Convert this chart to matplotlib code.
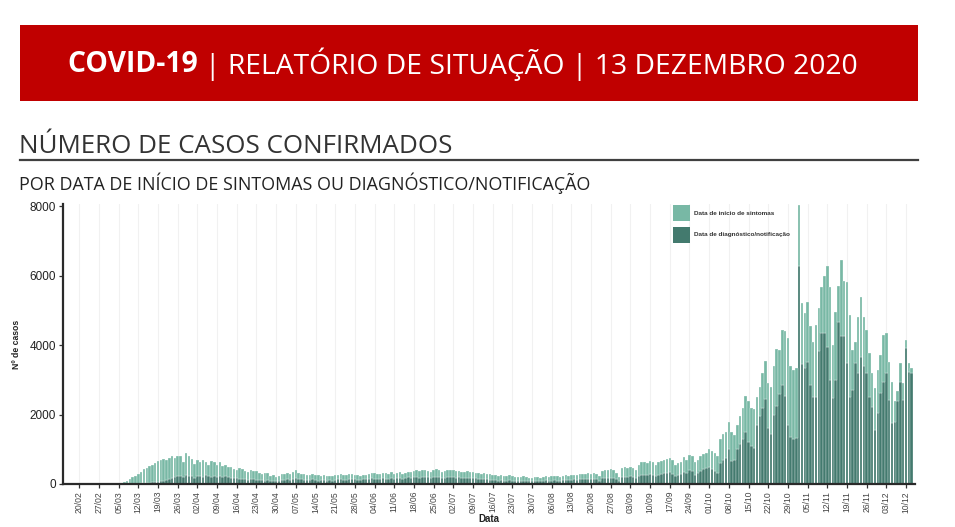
import numpy as np
import pandas as pd
import matplotlib
matplotlib.use('Agg')
import matplotlib.pyplot as plt
from matplotlib.patches import Rectangle, Patch
from matplotlib.lines import Line2D

# ---------------- data ----------------
start_date = '2020-02-20'
# total height of each daily bar (início de sintomas stacked on diagnóstico)
total = [
    0, 0, 0, 0, 0, 0, 2,
    3, 2, 4, 6, 5, 8, 12,
    18, 25, 50, 90, 140, 190, 240,
    300, 360, 420, 470, 520, 560, 610,
    660, 700, 720, 690, 760, 800, 760,
    800, 820, 640, 880, 800, 720, 580,
    680, 620, 700, 640, 560, 650, 620,
    560, 640, 520, 560, 500, 480, 440,
    410, 470, 430, 380, 360, 400, 370,
    380, 320, 300, 330, 310, 230, 250,
    210, 240, 280, 300, 320, 300, 350,
    400, 330, 300, 280, 270, 260, 300,
    270, 250, 230, 260, 240, 230, 220,
    250, 270, 290, 260, 250, 280, 300,
    270, 250, 240, 260, 270, 290, 320,
    310, 300, 280, 330, 310, 300, 340,
    290, 320, 350, 300, 330, 360, 340,
    380, 400, 370, 390, 410, 380, 360,
    400, 420, 390, 360, 380, 400, 410,
    390, 370, 380, 350, 340, 380, 360,
    340, 330, 310, 300, 320, 290, 280,
    270, 260, 240, 250, 230, 220, 250,
    230, 210, 200, 190, 220, 200, 180,
    170, 190, 200, 180, 210, 220, 200,
    230, 240, 220, 200, 230, 250, 240,
    260, 270, 250, 280, 290, 300, 310,
    300, 320, 290, 230, 380, 400, 390,
    420, 400, 330, 200, 460, 480, 470,
    500, 450, 400, 560, 640, 620, 600,
    650, 620, 560, 640, 660, 700, 720,
    740, 700, 560, 600, 640, 780, 700,
    840, 820, 620, 700, 800, 860, 900,
    1000, 950, 880, 820, 1300, 1450, 1500,
    1800, 1500, 1400, 1700, 1950, 2200, 2550,
    2400, 2200, 2150, 2500, 2800, 3200, 3550,
    2900, 2800, 3400, 3900, 3850, 4450, 4400,
    4200, 3400, 3300, 3340, 8040, 5230, 4940,
    5255, 4540, 4100, 4580, 5060, 5670, 5990,
    6280, 5690, 4010, 4970, 5710, 6450, 5850,
    5830, 4870, 3860, 4100, 4820, 5400, 4820,
    4440, 3770, 3190, 2760, 3290, 3720, 4300,
    4340, 3530, 2950, 2380, 2670, 3480, 2910,
    4150, 3480, 3340,
]
# cases by data de diagnóstico/notificação (dark, bottom part)
diagnostico = [
    0, 0, 0, 0, 0, 0, 0,
    0, 0, 0, 0, 0, 0, 0,
    0, 0, 0, 2, 3, 5, 8,
    10, 15, 20, 30, 40, 50, 60,
    70, 90, 100, 120, 150, 180, 200,
    220, 230, 200, 250, 240, 220, 180,
    220, 230, 210, 250, 220, 200, 230,
    210, 240, 200, 220, 190, 180, 170,
    160, 150, 140, 130, 120, 130, 140,
    120, 110, 120, 100, 110, 90, 80,
    90, 100, 110, 120, 130, 120, 140,
    160, 140, 130, 120, 110, 120, 130,
    110, 100, 110, 120, 100, 110, 100,
    120, 130, 140, 120, 110, 130, 150,
    130, 120, 110, 130, 140, 150, 160,
    150, 140, 130, 160, 150, 140, 170,
    150, 160, 180, 150, 170, 190, 170,
    200, 190, 180, 200, 210, 190, 170,
    200, 210, 190, 170, 180, 200, 210,
    190, 180, 190, 170, 160, 180, 170,
    160, 160, 150, 140, 150, 130, 120,
    120, 110, 100, 110, 100, 100, 110,
    100, 90, 80, 80, 100, 90, 80,
    80, 80, 90, 80, 100, 110, 90,
    100, 110, 100, 90, 110, 120, 110,
    120, 130, 110, 130, 140, 130, 150,
    140, 150, 130, 100, 170, 180, 170,
    180, 170, 140, 90, 200, 210, 200,
    220, 190, 160, 240, 270, 260, 250,
    280, 260, 220, 270, 290, 310, 320,
    340, 300, 230, 260, 280, 360, 320,
    400, 380, 270, 320, 380, 420, 450,
    480, 440, 380, 330, 600, 700, 750,
    1000, 650, 700, 1000, 1150, 1300, 1500,
    1200, 1100, 1050, 1700, 1950, 2200, 2450,
    1600, 1450, 2000, 2250, 2600, 2850, 2550,
    1700, 1350, 1300, 1320, 6280, 3460, 3340,
    3530, 2860, 2500, 2520, 3820, 4340, 4340,
    3960, 3000, 2470, 3000, 4680, 4270, 4270,
    3480, 2520, 2710, 3480, 3190, 3670, 3390,
    3190, 2520, 2230, 1560, 2040, 2620, 2950,
    3190, 2430, 1750, 1800, 2380, 2950, 2430,
    3910, 3240, 3190,
]
series_labels = ['Data de início de sintomas', 'Data de diagnóstico/notificação']
y_ticks = [0, 2000, 4000, 6000, 8000]
tick_start, tick_end = '2020-02-20', '2020-12-10'

banner_bold = 'COVID-19 '
banner_rest = '| RELATÓRIO DE SITUAÇÃO | 13 DEZEMBRO 2020'
title = 'NÚMERO DE CASOS CONFIRMADOS'
subtitle = 'POR DATA DE INÍCIO DE SINTOMAS OU DIAGNÓSTICO/NOTIFICAÇÃO'

# ---------------- styling ----------------
LIGHT = '#78b8a5'
DARK = '#437a6e'
RED = '#c00000'
HEAD_FONT = ['Open Sans', 'DejaVu Sans']
AX_FONT = ['Liberation Sans', 'DejaVu Sans']

W, H = 955, 527
fig = plt.figure(figsize=(W / 100, H / 100), dpi=100)
fig.patch.set_facecolor('white')


def fx(px):
    return px / W


def fy(py):
    return 1 - py / H


# banner
fig.patches.append(Rectangle((fx(20), fy(101)), fx(918) - fx(20), fy(25) - fy(101),
                             transform=fig.transFigure, facecolor=RED, edgecolor='none', zorder=0))
t1 = fig.text(fx(68), fy(64), banner_bold, fontsize=20.3, fontweight='bold', color='white',
              va='center', ha='left', family=HEAD_FONT)
fig.canvas.draw()
bb = t1.get_window_extent()
fig.text(bb.x1 / W, fy(64), banner_rest, fontsize=20.3, color='white',
         va='center', ha='left', family=HEAD_FONT)

# title, rule and subtitle
fig.text(fx(19), fy(153), title, fontsize=18.7, color='#333333', va='baseline', ha='left',
         family=HEAD_FONT)
fig.add_artist(Line2D([fx(20), fx(918)], [fy(160), fy(160)], transform=fig.transFigure,
                      color='#404040', lw=1.6))
fig.text(fx(19), fy(190), subtitle, fontsize=12.9, color='#222222', va='baseline', ha='left',
         family=HEAD_FONT)

# ---------------- chart ----------------
dates = pd.date_range(start_date, periods=len(total), freq='D')
tot = np.array(total, dtype=float)
dia = np.array(diagnostico, dtype=float)

ax = fig.add_axes([fx(63), fy(484), fx(915) - fx(63), fy(204) - fy(484)])
ax.set_facecolor('white')

tick_dates = pd.date_range(tick_start, tick_end, freq='7D')
for d in tick_dates:
    ax.axvline(d, color='#f1f1f1', lw=0.8, zorder=0)

ax.bar(dates, dia, width=0.88, color=DARK, edgecolor='white', linewidth=0.2, zorder=2)
ax.bar(dates, tot - dia, bottom=dia, width=0.88, color=LIGHT, edgecolor='white',
       linewidth=0.2, zorder=2)

ax.set_ylim(0, 8070)
ax.set_xlim(pd.Timestamp(start_date) - pd.Timedelta(days=5.8),
            pd.Timestamp(start_date) + pd.Timedelta(days=297.2))
ax.set_yticks(y_ticks)
ax.set_yticklabels([str(v) for v in y_ticks], fontsize=8.5, color='#222222', family=AX_FONT)
ax.set_xticks(tick_dates)
ax.set_xticklabels([d.strftime('%d/%m') for d in tick_dates], rotation=90, fontsize=6.2,
                   color='#444444', family=AX_FONT)
ax.tick_params(axis='both', length=3, width=0.9, color='#333333', pad=2)

for s in ['top', 'right']:
    ax.spines[s].set_visible(False)
for s in ['left', 'bottom']:
    ax.spines[s].set_color('#2a2a2a')
    ax.spines[s].set_linewidth(1.6)

ax.set_ylabel('Nº de casos', fontsize=6.2, fontweight='bold', color='#222222',
              family=AX_FONT, labelpad=6)
ax.set_xlabel('Data', fontsize=7, fontweight='bold', color='#222222', family=AX_FONT,
              labelpad=1)

handles = [Patch(facecolor=LIGHT, edgecolor='none'), Patch(facecolor=DARK, edgecolor='none')]
leg = ax.legend(handles, series_labels, loc='upper left', bbox_to_anchor=(0.716, 0.995),
                frameon=False, prop={'family': AX_FONT, 'size': 4.6, 'weight': 'bold'},
                handlelength=2.7, handleheight=3.4, labelspacing=0.9, handletextpad=0.6,
                borderaxespad=0, borderpad=0)
for t in leg.get_texts():
    t.set_color('#333333')

fig.savefig('out.png', dpi=100, facecolor='white')
